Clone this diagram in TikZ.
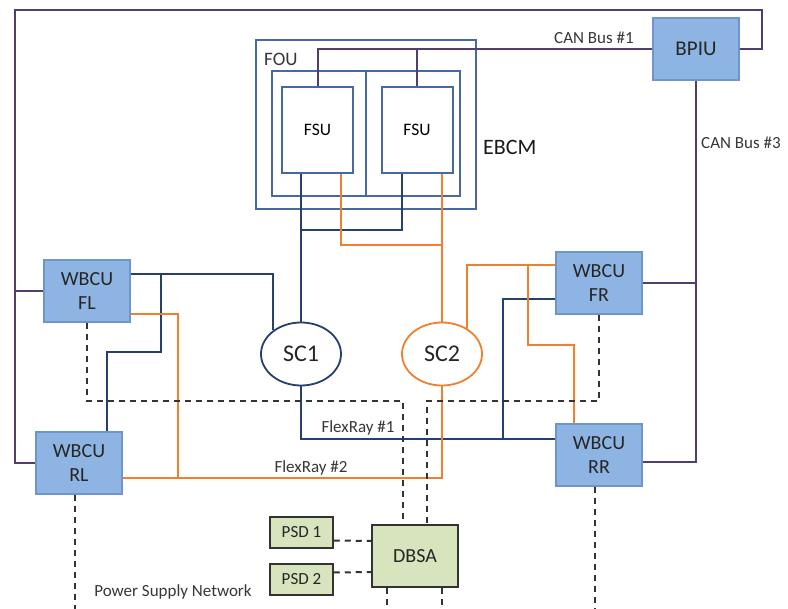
\documentclass[tikz,border=0pt]{standalone}
\usepackage{fontspec}
\setmainfont{Carlito}
\usetikzlibrary{shapes.geometric}
\definecolor{navyln}{RGB}{38,64,110}
\definecolor{fouln}{RGB}{70,105,160}
\definecolor{canln}{RGB}{80,62,110}
\definecolor{orln}{RGB}{240,128,45}
\definecolor{ecufill}{RGB}{141,180,226}
\definecolor{ecuedge}{RGB}{110,150,205}
\definecolor{psdfill}{RGB}{215,228,189}
\definecolor{txtgray}{RGB}{55,55,55}

\begin{document}
\begin{tikzpicture}[x=1pt, y=-1pt,
    ecu/.style={draw=ecuedge, line width=1.3pt, fill=ecufill, minimum width=86pt, minimum height=62pt, align=center, text=black!85, font=\fontsize{20}{24}\selectfont},
    fsubox/.style={draw=fouln, line width=2pt, fill=white, minimum width=71pt, minimum height=86pt, font=\fontsize{17.5}{20}\selectfont},
    psdbox/.style={draw=black!80, line width=1.5pt, fill=psdfill, text=black!85},
    sc/.style={draw, ellipse, line width=1.8pt, minimum width=80pt, minimum height=63pt, font=\fontsize{24}{28}\selectfont},
    lbl/.style={text=txtgray, inner sep=1pt, font=\fontsize{17}{20}\selectfont},
    bl/.style={navyln, line width=2pt},
    or/.style={orln, line width=2pt},
    can/.style={canln, line width=2pt},
    pwr/.style={black!80, line width=2pt, dash pattern=on 6pt off 5pt}]
  \useasboundingbox[fill=white] (0,0) rectangle (788,609);

  % electronic brake control module
  \node[draw=fouln, line width=2pt, minimum width=220pt, minimum height=169pt] (fou) at (366,124.5) {};
  \node[draw=fouln, line width=2pt, minimum width=188pt, minimum height=125pt] (fouin) at (366,133.5) {};
  \draw[fouln, line width=2pt] (fouin.north) -- (fouin.south);
  \node[fsubox] (fsu1) at (317.5,130) {FSU};
  \node[fsubox] (fsu2) at (417,130) {FSU};
  \node[lbl, anchor=west, font=\fontsize{19}{22}\selectfont] (lfou) at (263,59) {FOU};
  \node[lbl, anchor=west, text=black!90, font=\fontsize{22}{26}\selectfont] (lebcm) at (482,147) {EBCM};

  % control units
  \node[ecu, minimum height=62pt, font=\fontsize{21}{24}\selectfont] (bpiu) at (696,49) {BPIU};
  \node[ecu] (wfl) at (87,291) {WBCU\\FL};
  \node[ecu] (wrl) at (79,463) {WBCU\\RL};
  \node[ecu] (wfr) at (599,283) {WBCU\\FR};
  \node[ecu] (wrr) at (599,455) {WBCU\\RR};
  \node[sc, navyln, text=black!85] (sc1) at (301,354) {SC1};
  \node[sc, orln, text=black!85] (sc2) at (442,354) {SC2};

  % power supply
  \node[psdbox, minimum width=86pt, minimum height=62pt, font=\fontsize{20}{24}\selectfont] (dbsa) at (415,556) {DBSA};
  \node[psdbox, minimum width=63pt, minimum height=31pt, font=\fontsize{17}{20}\selectfont] (psd1) at (301.5,532.5) {PSD 1};
  \node[psdbox, minimum width=63pt, minimum height=31pt, font=\fontsize{17}{20}\selectfont] (psd2) at (301.5,579.5) {PSD 2};

  % CAN buses
  \coordinate (tr) at (762,10);
  \coordinate (tl) at (15,10);
  \draw[can] (bpiu.east) -| (tr) -- (tl) |- (wrl.west);
  \draw[can] (wfl.west) -- (wfl.west -| tl);
  \draw[can] (bpiu.west) -| (fsu1.north);
  \draw[can] (fsu2.north) |- (bpiu.west);
  \draw[can] (wfr.east) -| (bpiu.south);
  \draw[can] (bpiu.south) |- ([yshift=-7pt]wrr.east);
  \node[lbl, anchor=west] (lcan1) at (553,38) {CAN Bus \#1};
  \node[lbl, anchor=west] (lcan3) at (700,143) {CAN Bus \#3};

  % FlexRay #1
  \draw[bl] (sc1.north) -- (sc1.north |- fsu1.south);
  \draw[bl] ([xshift=-15pt]fsu2.south) -- ++(0,56) -| (sc1.north);
  \draw[bl] ([yshift=17pt]wfl.east) -| (sc1.140);
  \draw[bl] ([xshift=28pt]wrl.north) |- ++(54,-79) -- ++(0,-79);
  \draw[bl] (sc1.south) |- ([yshift=16pt]wrr.west);
  \draw[bl] ([yshift=-16pt]wfr.west) -- ++(-52,0) -- ++(0,140);
  \node[lbl] (lfr1) at (358,428) {FlexRay \#1};

  % FlexRay #2
  \draw[or] ([xshift=23pt]fsu1.south) -- ++(0,71) -| (sc2.north);
  \draw[or] (sc2.north) -- (sc2.north |- fsu2.south);
  \draw[or] ([yshift=-15pt]wrl.east) -| (sc2.south);
  \draw[or] ([yshift=-23pt]wfl.east) -- ++(47,0) -- ++(0,164);
  \draw[or] ([yshift=18pt]wfr.west) -| (sc2.45);
  \draw[or] ([xshift=-25pt]wrr.north) |- ++(-46,-78) -- ++(0,-81);
  \node[lbl] (lfr2) at (311,468) {FlexRay \#2};

  % power supply network
  \draw[pwr] (wfl.south) -- ++(0,78) -| ([xshift=-12pt]dbsa.north);
  \draw[pwr] (wfr.south) -- ++(0,86) -| ([xshift=12pt]dbsa.north);
  \draw[pwr] ([yshift=-8pt]psd1.east) -- ([yshift=15pt]dbsa.west);
  \draw[pwr] ([yshift=7pt]psd2.east) -- ([yshift=-16pt]dbsa.west);
  \draw[pwr] ([xshift=-28pt]dbsa.south) -- ++(0,25);
  \draw[pwr] ([xshift=27pt]dbsa.south) -- ++(0,25);
  \draw[pwr] ([xshift=-4pt]wrl.south) -- ++(0,120);
  \draw[pwr] ([xshift=-4pt]wrr.south) -- ++(0,125);
  \node[lbl] (lpsn) at (173,592) {Power Supply Network};
\end{tikzpicture}
\end{document}
